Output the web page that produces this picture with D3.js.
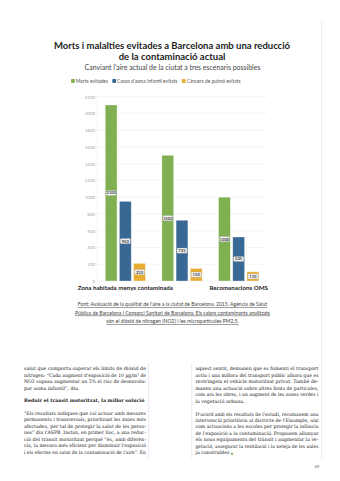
<!DOCTYPE html>
<html lang="ca">
<head>
  <meta charset="UTF-8">
  <title>Morts i malalties evitades a Barcelona</title>
  <script src="https://d3js.org/d3.v7.min.js"></script>
  <style>
    body { margin: 0; background: #fff; }
    svg { display: block; }
    .sans { font-family: Lato, "Open Sans", sans-serif; }
    .serif { font-family: "DejaVu Serif", serif; fill: #1a1a1a; }
  </style>
</head>
<body>
<svg width="340" height="481"></svg>
<script>
// chart data
const scenarios = ["Zona habitada menys contaminada", "", "Recomanacions OMS"];
const seriesNames = ["Morts evitades", "Casos d'asma infantil evitats", "Càncers de pulmó evitats"];
const seriesColors = ["#80b052", "#386893", "#e8ad31"];
const morts = [2100, 1500, 1000];
const asma = [950, 725, 525];
const cancer = [210, 150, 110];
const yTicks = [0, 200, 400, 600, 800, 1000, 1200, 1400, 1600, 1800, 2000, 2200];

const titleLines = ["Morts i malalties evitades a Barcelona amb una reducció", "de la contaminació actual"];
const subtitle = "Canviant l'aire actual de la ciutat a tres escenaris possibles";
const sourceLines = [
  "Font: Avaluació de la qualitat de l'aire a la ciutat de Barcelona. 2015. Agència de Salut",
  "Pública de Barcelona i Consorci Sanitari de Barcelona. Els valors contaminants analitzats",
  "són el diòxid de nitrogen (NO2) i les micropartícules PM2.5."
];

// body text columns: [text, justified]
const leftCol = [
  ["salut que comporta superar els límits de diòxid de", true],
  ["nitrogen: “Cada augment d'exposició de 10 µg/m³ de", true],
  ["NO2 suposa augmentar un 5% el risc de desenvolu-", true],
  ["par asma infantil”, diu.", false]
];
const leftHead = "Reduir el trànsit motoritzat, la millor solució";
const leftPara = [
  ["“Els resultats indiquen que cal actuar amb mesures", true],
  ["permanents i transversals, prioritzant les zones més", true],
  ["afectades, per tal de protegir la salut de les perso-", true],
  ["nes” diu l'ASPB. Instan, en primer lloc, a una reduc-", true],
  ["ció del trànsit motoritzat perquè “és, amb diferèn-", true],
  ["cia, la mesura més eficient per disminuir l'exposició", true],
  ["i els efectes en salut de la contaminació de l'aire”. En", true]
];
const rightPara1 = [
  ["aquest sentit, demanen que es fomenti el transport", true],
  ["actiu i una millora del transport públic alhora que es", true],
  ["restringeix el vehicle motoritzat privat. També de-", true],
  ["manen una actuació sobre altres fonts de partícules,", true],
  ["com ara les obres, i un augment de les zones verdes i", true],
  ["la vegetació urbana.", false]
];
const rightPara2 = [
  ["D'acord amb els resultats de l'estudi, recomanem una", true],
  ["intervenció prioritària al districte de l'Eixample, així", true],
  ["com actuacions a les escoles per protegir la infància", true],
  ["de l'exposició a la contaminació. Proposem allunyar", true],
  ["els nous equipaments del trànsit i augmentar la ve-", true],
  ["getació, assegurar la ventilació i la neteja de les aules", true],
  ["ja construïdes", false]
];

const svg = d3.select("svg");

// page rules
const rules = [[148.5, 363, 458], [191.7, 363, 458], [321.5, 21, 458]];
svg.selectAll(".rule").data(rules).enter().append("line")
  .attr("x1", d => d[0]).attr("x2", d => d[0])
  .attr("y1", d => d[1]).attr("y2", d => d[2])
  .attr("stroke", "#e4e0ec").attr("stroke-width", 0.7);

// titles
svg.selectAll(".title").data(titleLines).enter().append("text")
  .attr("class", "sans")
  .attr("x", 172).attr("y", (d, i) => 49 + i * 11.2)
  .attr("text-anchor", "middle")
  .attr("font-size", 9.5).attr("font-weight", 700).attr("fill", "#222")
  .text(d => d);

svg.append("text").attr("class", "sans")
  .attr("x", 172.5).attr("y", 70)
  .attr("text-anchor", "middle")
  .attr("font-size", 6.95).attr("fill", "#444")
  .text(subtitle);

// legend
const legend = svg.append("g").attr("class", "sans").attr("transform", "translate(71,82.6)");
let lx = 0;
seriesNames.forEach((name, i) => {
  legend.append("rect").attr("x", lx).attr("y", -3.7).attr("width", 3.8).attr("height", 4)
    .attr("rx", 0.8).attr("fill", seriesColors[i]);
  const t = legend.append("text").attr("x", lx + 4.8).attr("y", 0)
    .attr("font-size", 4.9).attr("fill", "#555").text(name);
  lx += 4.8 + t.node().getComputedTextLength() + 4.5;
});

// scales
const x0 = d3.scaleBand().domain(d3.range(scenarios.length)).range([97, 267])
  .paddingInner(0.29).paddingOuter(0.145);
const x1 = d3.scaleBand().domain(d3.range(seriesNames.length)).range([0, x0.bandwidth()])
  .paddingInner(0.17);
const y = d3.scaleLinear().domain([0, 2200]).range([281, 96.6]);

// grid
svg.append("g").selectAll("line").data(yTicks).enter().append("line")
  .attr("x1", 97).attr("x2", 267)
  .attr("y1", d => y(d)).attr("y2", d => y(d))
  .attr("stroke", "#ececec").attr("stroke-width", 0.6);
svg.append("line").attr("x1", 97).attr("x2", 97).attr("y1", y(2200)).attr("y2", y(0))
  .attr("stroke", "#eeeeee").attr("stroke-width", 0.6);

const yAxis = svg.append("g").attr("transform", "translate(97,0)")
  .call(d3.axisLeft(y).tickValues(yTicks).tickFormat(d3.format("d")).tickSize(0).tickPadding(1.8));
yAxis.select(".domain").remove();
yAxis.selectAll("text").attr("font-size", 4.5).attr("fill", "#a8a8a8")
  .attr("font-family", "Lato, sans-serif");

// bars
const values = [morts, asma, cancer];
const barData = [];
scenarios.forEach((s, i) => values.forEach((vals, j) => barData.push({ i, j, v: vals[i] })));

const bars = svg.append("g").selectAll("g").data(barData).enter().append("g")
  .attr("transform", d => `translate(${x0(d.i) + x1(d.j)},0)`);

bars.append("rect")
  .attr("y", d => y(d.v)).attr("width", x1.bandwidth()).attr("height", d => y(0) - y(d.v))
  .attr("fill", d => seriesColors[d.j])
  .attr("stroke", "#ffffff").attr("stroke-opacity", 0.55).attr("stroke-width", 0.6);

bars.append("rect")
  .attr("x", 0.8).attr("width", x1.bandwidth() - 1.6)
  .attr("y", d => (y(d.v) + y(0)) / 2 - 2.6).attr("height", 5.2).attr("rx", 1)
  .attr("fill", "#f3f3f3").attr("stroke", "#9a9a9a").attr("stroke-width", 0.3);

bars.append("text").attr("class", "sans")
  .attr("x", x1.bandwidth() / 2).attr("y", d => (y(d.v) + y(0)) / 2 + 1.5)
  .attr("text-anchor", "middle").attr("font-size", 4.2).attr("font-weight", 700).attr("fill", "#444")
  .text(d => d.v);

// category labels
svg.selectAll(".cat").data(scenarios).enter().append("text")
  .attr("class", "sans")
  .attr("x", (d, i) => x0(i) + x0.bandwidth() / 2).attr("y", 289.6)
  .attr("text-anchor", "middle").attr("font-size", 6.2).attr("font-weight", 700).attr("fill", "#222")
  .text(d => d);

// source
svg.selectAll(".src").data(sourceLines).enter().append("text")
  .attr("class", "sans")
  .attr("x", 172.5).attr("y", (d, i) => 306 + i * 8.6)
  .attr("text-anchor", "middle").attr("font-size", 5.1).attr("fill", "#444")
  .attr("text-decoration", "underline")
  .text(d => d);

// body text
function column(lines, x, y0, w, bold) {
  lines.forEach((l, k) => {
    const t = svg.append("text").attr("class", "serif")
      .attr("x", x).attr("y", y0 + k * 6.45)
      .attr("font-size", 4.75).attr("font-weight", bold ? 700 : 400)
      .text(l[0]);
    if (l[1]) t.attr("textLength", w).attr("lengthAdjust", "spacingAndGlyphs");
  });
}
column(leftCol, 24, 370.3, 122);
column([[leftHead, false]], 24, 401.8, 122, true);
column(leftPara, 24, 414.8, 122);
column(rightPara1, 195.5, 370.3, 123);
column(rightPara2, 195.5, 415.5, 123);

// end mark
const lastLine = svg.selectAll("text.serif").filter(function () { return this.textContent === "ja construïdes"; });
const endX = 195.5 + lastLine.node().getComputedTextLength() + 1.5;
svg.append("rect").attr("x", endX).attr("y", 452.8).attr("width", 2.2).attr("height", 2.2).attr("rx", 1.1).attr("fill", "#6bb34a");

// page number
svg.append("text").attr("class", "sans")
  .attr("x", 317).attr("y", 467.8).attr("text-anchor", "middle")
  .attr("font-size", 3.8).attr("fill", "#555").text("49");
</script>
</body>
</html>
